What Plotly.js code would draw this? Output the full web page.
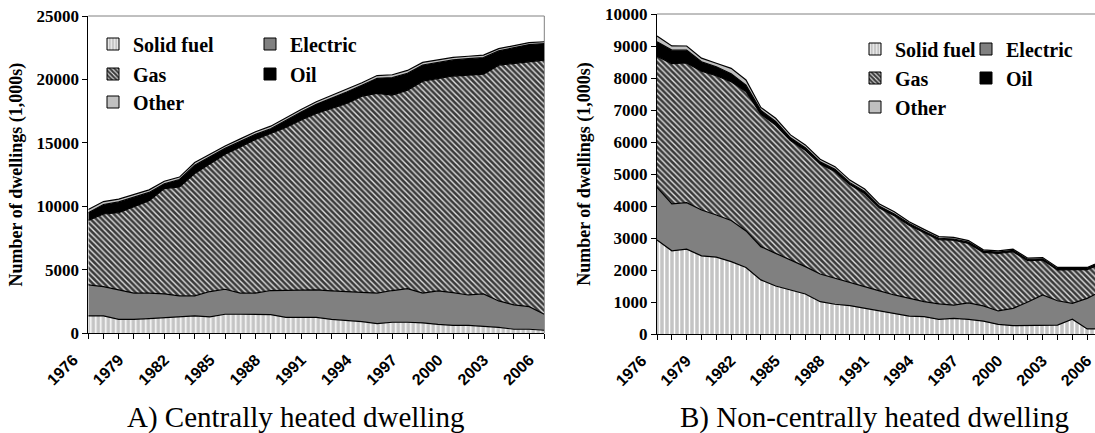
<!DOCTYPE html>
<html><head><meta charset="utf-8">
<script src="https://cdn.plot.ly/plotly-3.0.1.min.js"></script>
<style>html,body{margin:0;padding:0;overflow:hidden;background:#fff}#chart{width:1110px;height:433px}</style>
</head><body><div id="chart"></div>
<script>
// ---------- data ----------
const years = [1976,1977,1978,1979,1980,1981,1982,1983,1984,1985,1986,1987,1988,1989,1990,1991,1992,1993,1994,1995,1996,1997,1998,1999,2000,2001,2002,2003,2004,2005,2006];
const seriesNames = ['Solid fuel','Electric','Gas','Oil','Other'];

// A) Centrally heated dwelling (1,000s)
const solidA    = [1370,1370,1100,1100,1160,1240,1310,1370,1290,1500,1500,1500,1470,1260,1260,1260,1100,1000,920,760,870,870,820,710,630,630,580,470,320,320,240];
const electricA = [2440,2310,2320,2060,2000,1860,1640,1580,2000,1970,1660,1660,1900,2110,2110,2160,2240,2290,2290,2400,2500,2650,2340,2630,2580,2390,2520,2080,1920,1780,1260];
const gasA      = [5090,5720,6080,6840,7290,8300,8580,9640,10060,10640,11530,12110,12370,12850,13430,13900,14370,14820,15480,15740,15400,15640,16710,16740,17060,17320,17320,18580,19030,19300,20030];
const oilA      = [600,750,850,700,650,380,590,660,560,460,430,400,380,580,640,720,800,900,850,1190,1370,1330,1270,1250,1270,1300,1300,1120,1240,1350,1290];
const otherA    = [250,230,220,210,200,200,190,200,200,190,200,210,200,200,190,200,210,200,200,220,230,220,200,210,200,190,200,180,170,150,150];

// B) Non-centrally heated dwelling (1,000s)
const solidB    = [2940,2600,2650,2440,2400,2260,2080,1690,1500,1375,1250,1010,930,885,800,720,650,560,540,460,490,460,400,300,260,260,280,280,460,160,160];
const electricB = [1645,1465,1455,1435,1320,1285,1140,1040,1020,940,855,865,810,715,680,630,570,555,470,480,415,510,480,420,540,740,940,760,500,955,1190];
const gasB      = [4095,4386,4365,4334,4350,4337,4360,4140,4010,3727,3635,3435,3340,3070,2910,2590,2480,2285,2160,2012,2024,1860,1670,1800,1770,1290,1090,960,1050,895,860];
const oilB      = [450,420,400,300,280,250,200,120,110,90,80,70,70,60,60,50,50,50,40,40,40,40,40,40,40,40,40,40,40,40,40];
const otherB    = [180,130,130,110,110,170,160,90,100,90,90,80,80,80,80,70,70,60,60,50,50,50,40,40,40,40,40,40,30,30,30];

const yTitle = 'Number of dwellings (1,000s)';
const panelTitles = ['A) Centrally heated dwelling', 'B) Non-centrally heated dwelling'];

// ---------- styling ----------
const W = 1110, H = 433;
const px = v => v / W;
const py = v => 1 - v / H;
const SERIF = 'Liberation Serif, Times New Roman, serif';
const SANS = 'Liberation Sans, Arial, sans-serif';

const styles = [
  {fill:'#c0c0c0', pattern:{shape:'|', bgcolor:'#c4c4c4', fgcolor:'#ffffff', size:5, solidity:0.3}},
  {fill:'#808080'},
  {fill:'#555555', pattern:{shape:'\\', bgcolor:'#3a3a3a', fgcolor:'#e0e0e0', size:4, solidity:0.35}},
  {fill:'#000000'},
  {fill:'#c0c0c0'}
];

const dataA = [solidA, electricA, gasA, oilA, otherA];
const dataB = [solidB, electricB, gasB, oilB, otherB];

const traces = [];
function addPanel(data, xa, ya, group) {
  data.forEach((vals, i) => {
    const t = {
      type:'scatter', mode:'lines', x: years, y: vals, name: seriesNames[i],
      stackgroup: group, xaxis: xa, yaxis: ya, showlegend:false, hoverinfo:'skip',
      line:{color:'#000000', width:1.2, shape:'linear'},
      fillcolor: styles[i].fill
    };
    if (styles[i].pattern) t.fillpattern = Object.assign({fillmode:'replace'}, styles[i].pattern);
    traces.push(t);
  });
}
addPanel(dataA, 'x', 'y', 'A');
addPanel(dataB, 'x2', 'y2', 'B');

// legend entries (one legend per entry for exact placement)
const legPosA = [[93,44],[250,44],[93,74],[250,74],[93,102]];
const legPosB = [[855,49],[966,49],[855,78],[966,78],[855,107]];
const layoutLegends = {};
let legN = 1;
function addLegend(xa, ya, pos) {
  seriesNames.forEach((nm, i) => {
    const key = legN === 1 ? 'legend' : 'legend' + legN;
    const m = {color: styles[i].fill, line:{color:'#000000', width:1}};
    if (styles[i].pattern) m.pattern = Object.assign({fillmode:'replace'}, styles[i].pattern, {size:4});
    traces.push({type:'bar', x:[years[0]], y:[null], name:nm, xaxis:xa, yaxis:ya, marker:m, legend:key, showlegend:true, hoverinfo:'skip'});
    layoutLegends[key] = {
      x: px(pos[i][0]), y: py(pos[i][1]), xanchor:'left', yanchor:'middle',
      bgcolor:'rgba(0,0,0,0)', borderwidth:0, orientation:'v',
      font:{family:SERIF, size:20, weight:'bold', color:'#000000'}
    };
    legN++;
  });
}
addLegend('x', 'y', legPosA);
addLegend('x2', 'y2', legPosB);

function xAxis(dom, anchor) {
  return {domain:dom, anchor:anchor, range:[1976,2006], tick0:1976, dtick:3, tickmode:'linear',
    ticks:'outside', ticklen:5, tickcolor:'#000', tickwidth:1, tickangle:-45,
    ticklabelshift:-15, ticklabelstandoff:5,
    showline:true, linecolor:'#000', linewidth:1, showgrid:false, zeroline:false,
    tickfont:{family:SANS, size:16, weight:'bold', color:'#000'}, fixedrange:true,
    minor:{dtick:1, tick0:1976, ticks:'outside', ticklen:5, tickcolor:'#000', tickwidth:1, showgrid:false}};
}
function yAxis(dom, anchor, maxv, step) {
  return {domain:dom, anchor:anchor, range:[0,maxv], tick0:0, dtick:step, tickmode:'linear', tickformat:'d',
    ticks:'outside', ticklen:5, tickcolor:'#000', tickwidth:1,
    showline:true, linecolor:'#000', linewidth:1, showgrid:false, zeroline:false,
    tickfont:{family:SERIF, size:17, weight:'bold', color:'#000'}, fixedrange:true,
    title:{text:yTitle, font:{family:SERIF, size:18, weight:'bold', color:'#000'}, standoff:9}};
}

const layout = Object.assign({
  width:W, height:H, margin:{l:0, r:0, t:0, b:0},
  paper_bgcolor:'#ffffff', plot_bgcolor:'#ffffff',
  font:{family:SERIF, color:'#000000'},
  showlegend:true, barmode:'overlay',
  xaxis: xAxis([px(88.3), px(544.3)], 'y'),
  yaxis: yAxis([py(333.3), py(16)], 'x', 25000, 5000),
  xaxis2: xAxis([px(657), px(1102)], 'y2'),
  yaxis2: yAxis([py(334), py(14)], 'x2', 10000, 1000),
  shapes:[
    {type:'line', xref:'x domain', yref:'y domain', x0:0, x1:1, y0:1, y1:1, line:{color:'#808080', width:1}},
    {type:'line', xref:'x domain', yref:'y domain', x0:1, x1:1, y0:0, y1:1, line:{color:'#808080', width:1}, layer:'below'},
    {type:'line', xref:'x2 domain', yref:'y2 domain', x0:0, x1:1, y0:1, y1:1, line:{color:'#808080', width:1}}
  ],
  annotations:[
    {text:panelTitles[0], xref:'paper', yref:'paper', x:px(295), y:py(417), xanchor:'center', yanchor:'middle', showarrow:false, font:{family:SERIF, size:29, color:'#000'}},
    {text:panelTitles[1], xref:'paper', yref:'paper', x:px(874), y:py(417), xanchor:'center', yanchor:'middle', showarrow:false, font:{family:SERIF, size:29, color:'#000'}}
  ]
}, layoutLegends);

Plotly.newPlot('chart', traces, layout, {staticPlot:true, displayModeBar:false});
</script>
</body></html>
